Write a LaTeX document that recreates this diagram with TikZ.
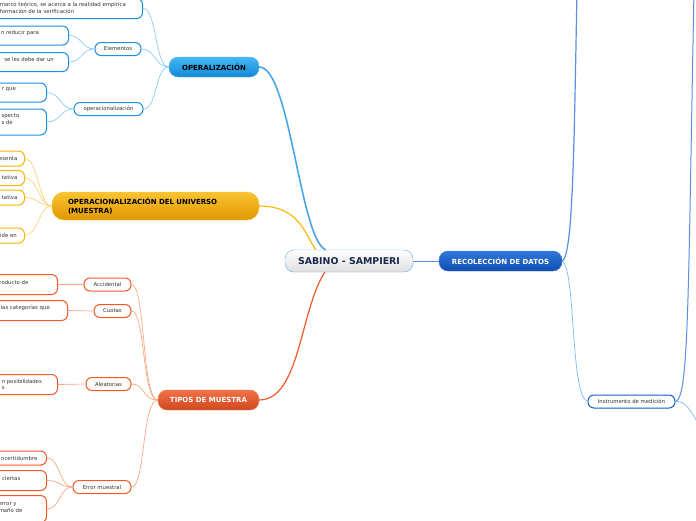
\documentclass[tikz,border=0pt]{standalone}
\usepackage{fontspec}
\setmainfont{DejaVu Sans}
\definecolor{cblue}{HTML}{1E90E0}
\definecolor{lblue}{HTML}{8CCCF2}
\definecolor{cyel}{HTML}{F8B400}
\definecolor{lyel}{HTML}{FCD27A}
\definecolor{cred}{HTML}{F05A28}
\definecolor{lred}{HTML}{F8A888}
\definecolor{dblue}{HTML}{1060D0}
\definecolor{mblue}{HTML}{5A90E0}
\definecolor{txtc}{HTML}{333333}
\begin{document}
\begin{tikzpicture}[x=1pt,y=-1pt,
  small/.style={draw, line width=1pt, fill=white, rounded corners=6pt, inner sep=0pt, minimum height=13pt, font=\fontsize{5.35}{6}\selectfont, text=txtc},
  sbox/.style={small, draw=cblue},
  ybox/.style={small, draw=cyel},
  rbox/.style={small, draw=cred},
  lbl/.style={inner sep=0pt, anchor=east, align=left, font=\fontsize{5.35}{6.5}\selectfont, text=txtc},
  main/.style={rounded corners=9pt, inner sep=0pt, minimum height=20pt, font=\bfseries\fontsize{7}{8}\selectfont},
  sub/.style={line width=0.7pt},
]
\clip (0,0) rectangle (696,520);
\fill[white] (0,0) rectangle (696,520);

% main nodes
\node[main, draw=cblue!70, top color=white, bottom color=gray!25, minimum width=128pt, minimum height=22pt, font=\bfseries\fontsize{9.4}{10}\selectfont, text={rgb,255:red,26;green,40;blue,74}] (c) at (349,261) {SABINO - SAMPIERI};
\node[main, draw=dblue!80, top color={rgb,255:red,50;green,120;blue,220}, bottom color={rgb,255:red,16;green,76;blue,176}, minimum width=123pt, text=white] (rec) at (500.5,261) {RECOLECCIÓN DE DATOS};
\node[main, draw=cblue!70, top color={rgb,255:red,70;green,185;blue,245}, bottom color={rgb,255:red,16;green,136;blue,212}, minimum width=90pt, text=black] (op) at (214,67) {OPERALIZACIÓN};
\node[main, draw=cyel!80, top color={rgb,255:red,250;green,196;blue,50}, bottom color={rgb,255:red,224;green,152;blue,0}, minimum width=207pt, minimum height=28pt, rounded corners=12pt, text=black, text width=190pt, align=left, font=\bfseries\fontsize{7}{8.5}\selectfont] (ou) at (155.5,206) {\hspace*{7.5pt}OPERACIONALIZACIÓN DEL UNIVERSO\\\hspace*{7.5pt}(MUESTRA)};
\node[main, draw=cred!80, top color={rgb,255:red,242;green,112;blue,72}, bottom color={rgb,255:red,208;green,72;blue,30}, minimum width=101pt, text=white] (tm) at (208.5,400) {TIPOS DE MUESTRA};

% blue branch
\node[sbox, minimum width=46pt] (el) at (118,49) {Elementos};
\node[sbox, minimum width=69pt] (opz) at (108.5,109) {operacionalización};
\node[sbox, minimum width=180pt, minimum height=20pt, anchor=east] (b0) at (143,8.5) {};
\node[sbox, minimum width=100pt, minimum height=19pt, anchor=east] (b1) at (69,35.5) {};
\node[sbox, minimum width=100pt, minimum height=19pt, anchor=east] (b2) at (69,62) {};
\node[sbox, minimum width=80pt, minimum height=19pt, anchor=east] (b3) at (47,92.5) {};
\node[sbox, minimum width=80pt, minimum height=26pt, anchor=east] (b4) at (47,122) {};
\node[lbl] (t0) at (126,8) {marco teórico, se acerca a la realidad empírica\\formación de la verificación};
\node[lbl] (t1) at (39,33) {n reducir para};
\node[lbl] (t2) at (54,59.5) {se les debe dar un};
\node[lbl] (t3) at (16,90) {r que};
\node[lbl] (t4) at (19.5,119) {specto\\s de};

% yellow branch
\node[ybox, minimum width=60pt, minimum height=15pt, anchor=east] (y1) at (25,158.5) {};
\node[ybox, minimum width=60pt, minimum height=15pt, anchor=east] (y2) at (25,178) {};
\node[ybox, minimum width=60pt, minimum height=15pt, anchor=east] (y3) at (25,197.5) {};
\node[ybox, minimum width=60pt, minimum height=15pt, anchor=east] (y4) at (25,235.5) {};
\node[lbl] (ty1) at (17.5,158.5) {esenta};
\node[lbl] (ty2) at (17.5,178) {tativa};
\node[lbl] (ty3) at (17.5,197.5) {tativa};
\node[lbl] (ty4) at (17,235.5) {ide en};

% red branch
\node[rbox, minimum width=47pt] (ac) at (107.5,284.5) {Accidental};
\node[rbox, minimum width=37pt] (cu) at (112.5,311) {Cuotas};
\node[rbox, minimum width=45pt] (al) at (108.5,384) {Aleatorias};
\node[rbox, minimum width=58pt] (er) at (102,487) {Error muestral};
\node[rbox, minimum width=90pt, minimum height=20pt, anchor=east] (r1) at (58,284.5) {};
\node[rbox, minimum width=100pt, minimum height=20pt, anchor=east] (r2) at (68,310.5) {};
\node[rbox, minimum width=90pt, minimum height=20pt, anchor=east] (r3) at (58,384.5) {};
\node[rbox, minimum width=80pt, minimum height=14pt, anchor=east] (r4) at (47,458) {};
\node[rbox, minimum width=80pt, minimum height=20pt, anchor=east] (r5) at (47,480.5) {};
\node[rbox, minimum width=80pt, minimum height=27pt, anchor=east] (r6) at (47,509) {};
\node[lbl] (tr1) at (28.5,282) {roducto de};
\node[lbl] (tr2) at (50,308) {las categorías que};
\node[lbl] (tr3) at (42,384.5) {n posibilidades\\s};
\node[lbl] (tr4) at (37.5,458) {ncertidumbre};
\node[lbl] (tr5) at (20.5,478) {ciertas};
\node[lbl] (tr6) at (22.5,507.5) {error y\\maño de};

% recoleccion child
\node[small, draw=dblue, minimum width=87pt] (ins) at (631.5,401.5) {Instrumento de medición};
\coordinate (top1) at (577,-10);
\coordinate (top2) at (694,-10);
\coordinate (rd) at (700,426);

% main connectors
\draw[cblue!80, line width=1.6pt] (c.north west) ++(41,0) coordinate (cop) .. controls (300,240) and (290,67) .. (op.east);
\draw[cyel, line width=1.1pt] (c.north west) ++(31,0) coordinate (cyy) .. controls (305,235) and (300,206) .. (ou.east);
\draw[cred, line width=1.2pt] (c.south west) ++(40,0) coordinate (crr) .. controls (300,310) and (300,400) .. (tm.east);
\draw[mblue, line width=0.9pt] (c.east) -- (rec.west);
\draw[mblue, line width=1.2pt] (rec.east) .. controls (573,255) and (574,150) .. (top1);
\draw[lblue!70!mblue, line width=0.7pt] (rec.east) .. controls (576,270) and (570,395) .. (ins.west);
\draw[mblue, line width=1pt] (ins.east) .. controls (689,398) and (688,300) .. (top2);
\draw[lblue!70!mblue, line width=0.7pt] (ins.east) .. controls (686,401) and (690,410) .. (rd);

% blue sub connectors
\foreach \n in {b0,el,opz}
  \draw[sub, lblue] (op.west) .. controls +(-14,0) and +(14,0) .. (\n.east);
\foreach \n in {b1,b2}
  \draw[sub, lblue] (el.west) .. controls +(-13,0) and +(13,0) .. (\n.east);
\foreach \n in {b3,b4}
  \draw[sub, lblue] (opz.west) .. controls +(-13,0) and +(13,0) .. (\n.east);
% yellow sub connectors
\foreach \n in {y1,y2,y3,y4}
  \draw[sub, lyel] (ou.west) .. controls +(-13,0) and +(13,0) .. (\n.east);
% red sub connectors
\foreach \n in {ac,cu,al,er}
  \draw[sub, lred] (tm.west) .. controls +(-16,0) and +(14,0) .. (\n.east);
\draw[sub, lred] (ac.west) -- (r1.east);
\draw[sub, lred] (cu.west) -- (r2.east);
\draw[sub, lred] (al.west) -- (r3.east);
\foreach \n in {r4,r5,r6}
  \draw[sub, lred] (er.west) .. controls +(-13,0) and +(13,0) .. (\n.east);
\end{tikzpicture}
\end{document}
